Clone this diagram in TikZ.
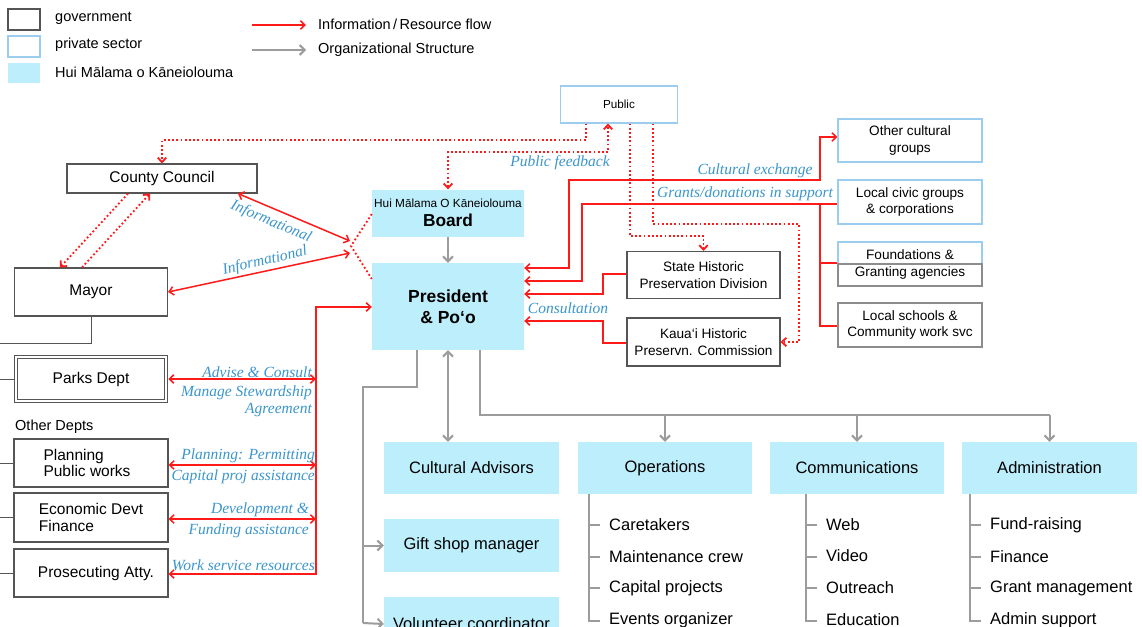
\documentclass[tikz,border=0pt]{standalone}
\usepackage{fontspec}
\setmainfont{Liberation Sans}
\newfontfamily\lblfont{Liberation Serif}
\usetikzlibrary{arrows.meta}
\definecolor{huic}{HTML}{BDEEFB}
\definecolor{privc}{HTML}{9DCDEE}
\definecolor{govc}{HTML}{555555}
\definecolor{gryc}{HTML}{8C8C8C}
\definecolor{redc}{HTML}{FF1A1A}
\definecolor{grayc}{HTML}{9C9C9C}
\definecolor{lblc}{HTML}{3A96CC}
\newcommand\myfs[2]{\fontsize{#1}{#2}\selectfont}
\tikzset{
 govbox/.style={draw=govc, line width=1.1pt, fill=white, inner sep=0pt, align=center},
 privbox/.style={draw=privc, line width=1.1pt, fill=white, inner sep=0pt, align=center},
 grybox/.style={draw=gryc, line width=1.1pt, fill=white, inner sep=0pt, align=center},
 huibox/.style={fill=huic, inner sep=0pt, align=center},
 txt/.style={inner sep=0pt},
 lbl/.style={inner sep=0pt, text=lblc, font=\lblfont\itshape\myfs{15.5}{17}},
 rflow/.style={draw=redc, line width=1.5pt, >={Straight Barb[length=4.5pt,width=8.5pt]}},
 rdot/.style={rflow, line width=1.8pt, dash pattern=on 1.8pt off 2.4pt},
 org/.style={draw=grayc, line width=2pt, >={Straight Barb[length=5pt,width=10pt]}},
 tree/.style={draw=grayc, line width=2pt},
 conn/.style={draw=govc, line width=1pt},
}
\begin{document}
\begin{tikzpicture}[x=1pt,y=-1pt]
\useasboundingbox (0,0) rectangle (1142,626);
\fill[white] (0,0) rectangle (1142,626);
\clip (0,0) rectangle (1142,626);

% ---------- legend ----------
\node[govbox, minimum width=32, minimum height=21] (lg1) at (24,19.5) {};
\node[privbox, minimum width=32, minimum height=21] (lg2) at (24,46.5) {};
\node[huibox, minimum width=32, minimum height=20] (lg3) at (24,73) {};
\node[txt, anchor=west, font=\myfs{14.5}{16}] (lt1) at (55,18) {government};
\node[txt, anchor=west, font=\myfs{14.5}{16}] (lt2) at (55,45) {private sector};
\node[txt, anchor=west, font=\myfs{14.5}{16}] (lt3) at (55,72) {Hui Mālama o Kāneiolouma};
\coordinate (la1) at (252,25);
\coordinate (la2) at (306,25);
\coordinate (la3) at (252,50);
\coordinate (la4) at (306,50);
\draw[rflow,->] (la1) -- (la2);
\draw[org,->] (la3) -- (la4);
\node[txt, anchor=west, font=\myfs{14.5}{16}] (lt4) at (318,24) {Information\,/\,Resource flow};
\node[txt, anchor=west, font=\myfs{14.5}{16}] (lt5) at (318,50) {Organizational Structure};

% ---------- main nodes ----------
\node[privbox, minimum width=117, minimum height=37, font=\myfs{11.7}{13}] (pub) at (619,104.5) {Public};
\node[govbox, minimum width=190, minimum height=29, font=\myfs{15.5}{17}] (cc) at (162,178.5) {County Council};
\node[govbox, minimum width=153, minimum height=48, font=\myfs{15.5}{17}] (may) at (91,292) {Mayor};
\node[huibox, minimum width=152, minimum height=47] (brd) at (448,213)
  {{\myfs{11.8}{13}Hui Mālama O Kāneiolouma}\\[5pt]{\myfs{17.3}{18}\bfseries Board}};
\node[huibox, minimum width=152, minimum height=87, font=\myfs{17.5}{21}\bfseries] (pres) at (448,306.5) {President\\\& Po‘o};

\node[govbox, minimum width=153, minimum height=47, font=\myfs{13.6}{17}] (shpd) at (703.5,275) {State Historic\\Preservation Division};
\node[govbox, minimum width=153, minimum height=48, font=\myfs{13.6}{17}] (khpc) at (703.5,342) {Kaua‘i Historic\\Preservn. Commission};

\node[privbox, minimum width=144, minimum height=43, font=\myfs{13.6}{16.5}] (ocg) at (910,140.5) {Other cultural\\groups};
\node[privbox, minimum width=144, minimum height=44, font=\myfs{13.6}{16.5}] (lcg) at (910,202) {Local civic groups\\\& corporations};
\node[privbox, minimum width=144, minimum height=44] (fnd) at (910,264) {};
\node[grybox, minimum width=144, minimum height=22] (fndb) at (910,275) {};
\node[txt, align=center, font=\myfs{13.6}{17}] (fndt) at (910,264.5) {Foundations \&\\Granting agencies};
\node[grybox, minimum width=144, minimum height=44, font=\myfs{13.6}{16.5}] (lsc) at (910,325) {Local schools \&\\Community work svc};

% left departments
\node[govbox, double, double distance=2.5pt, line width=1pt, minimum width=150, minimum height=44, font=\myfs{15.5}{17}] (parks) at (91,379) {Parks Dept};
\node[txt, anchor=west, font=\myfs{14.5}{16}] (oth) at (15,427) {Other Depts};
\node[govbox, align=left, minimum width=154, minimum height=48, font=\myfs{15.5}{16.5}] (plan) at (91,463) {Planning\\Public works\hspace*{8pt}};
\node[govbox, align=left, minimum width=154, minimum height=49, font=\myfs{15.5}{16.5}] (econ) at (91,517.5) {Economic Devt\\Finance};
\node[govbox, minimum width=154, minimum height=48, font=\myfs{15.5}{17}] (pros) at (91,573) {\hspace*{10pt}Prosecuting Atty.};

% lower org boxes
\node[huibox, minimum width=175, minimum height=52, font=\myfs{16.5}{18}] (ca) at (471.5,468) {Cultural Advisors};
\node[huibox, minimum width=175, minimum height=53, font=\myfs{16.5}{18}] (gs) at (471.5,545.5) {Gift shop manager};
\node[huibox, minimum width=175, minimum height=54, font=\myfs{16.5}{18}] (vc) at (471.5,624) {Volunteer coordinator};
\node[huibox, minimum width=174, minimum height=52, font=\myfs{16.5}{18}] (ops) at (665,468) {Operations};
\node[huibox, minimum width=174, minimum height=52, font=\myfs{16.5}{18}] (com) at (857,468) {Communications};
\node[huibox, minimum width=175, minimum height=52, font=\myfs{16.5}{18}] (adm) at (1049.5,468) {Administration};

% sub items
\foreach \t/\y [count=\i] in {Caretakers/525, Maintenance crew/557, Capital projects/588, Events organizer/620}
  \node[txt, anchor=west, font=\myfs{16.5}{18}] (op\i) at (609,\y) {\t};
\foreach \t/\y [count=\i] in {Web/525, Video/556, Outreach/588, Education/620}
  \node[txt, anchor=west, font=\myfs{16.5}{18}] (cm\i) at (826,\y) {\t};
\foreach \t/\y [count=\i] in {Fund-raising/525, Finance/557, Grant management/588, Admin support/620}
  \node[txt, anchor=west, font=\myfs{16.5}{18}] (ad\i) at (990,\y) {\t};

% ---------- gray structure ----------
\draw[org,->] (brd.south) -- (pres.north);
\draw[org,<->] (pres.south) -- (pres.south |- ca.north);
\draw[tree] (pres.south -| 417,0) -- (417,387) -- (363,387) -- (363,623);
\draw[org,->] (363,545.5) -- (gs.west);
\draw[org,->] (363,623) -- (vc.west);
\draw[tree] (pres.south -| 480,0) -- (480,415) -- (1049.5,415);
\draw[org,->] (ops.north |- 0,415) -- (ops.north);
\draw[org,->] (com.north |- 0,415) -- (com.north);
\draw[org,->] (adm.north |- 0,415) -- (adm.north);
\draw[tree] (ops.south -| 589,0) -- (589,621) -- (600,621);
\foreach \y in {525,557,588} \draw[tree] (589,\y) -- (600,\y);
\draw[tree] (com.south -| 806,0) -- (806,621) -- (817,621);
\foreach \y in {525,557,588} \draw[tree] (806,\y) -- (817,\y);
\draw[tree] (adm.south -| 970,0) -- (970,621) -- (981,621);
\foreach \y in {525,557,588} \draw[tree] (970,\y) -- (981,\y);

% government stubs
\draw[conn] (may.south) -- (may.south |- 0,343) -- (0,343);
\draw[conn] (parks.west -| 0,0) -- ([xshift=-1.75pt]parks.west);
\draw[conn] (plan.west -| 0,0) -- (plan.west);
\draw[conn] (econ.west -| 0,0) -- (econ.west);
\draw[conn] (pros.west -| 0,0) -- (pros.west);

% ---------- red flows ----------
\coordinate (ix1) at (350,241);
\coordinate (ix2) at (350,253);
\draw[rflow,<->] (cc.south -| 238,0) -- (ix1);
\draw[rflow,<->] (may.east) -- (ix2);
\node[lbl, rotate=-23] (inf1) at (271,222) {Informational};
\node[lbl, rotate=13] (inf2) at (265,261) {Informational};

\draw[rflow,<->] (pres.west |- 0,307) -- (316,307) -- (316,574) -- (pros.east |- 0,574);
\draw[rflow,<->] ([xshift=1.75pt]parks.east) -- (parks.east -| 316,0);
\draw[rflow,<->] (plan.east |- 0,465) -- (316,465);
\draw[rflow,<->] (econ.east |- 0,519) -- (316,519);
\node[lbl, anchor=east] (l1) at (312,372) {Advise \& Consult};
\node[lbl, anchor=east] (l2) at (312,393) {Manage Stewardship};
\node[lbl, anchor=east] (l3) at (312,410) {Agreement};
\node[lbl, anchor=east] (l4) at (315,456) {Planning: Permitting};
\node[lbl, anchor=east] (l5) at (315,477) {Capital proj assistance};
\node[lbl, anchor=east] (l6) at (309,510) {Development \&};
\node[lbl, anchor=east] (l7) at (309,531) {Funding assistance};
\node[lbl, anchor=east] (l8) at (315,565) {Work service resources};

\draw[rflow,<->] (pres.east |- 0,268) -- (569,268) -- (569,180) -- (820,180) -- (820,137) -- (ocg.west |- 0,137);
\draw[rflow,->] (lcg.west |- 0,204) -- (582,204) -- (582,281) -- (pres.east |- 0,281);
\draw[rflow, line width=1.1pt] (820,204) -- (820,326) -- (lsc.west |- 0,326);
\draw[rflow, line width=1.1pt] (820,263) -- (fnd.west |- 0,263);
\draw[rflow,->] (shpd.west |- 0,274) -- (603,274) -- (603,294) -- (pres.east |- 0,294);
\draw[rflow,->] (khpc.west |- 0,343) -- (603,343) -- (603,321) -- (pres.east |- 0,321);
\node[lbl] (lce) at (755,171) {Cultural exchange};
\node[lbl] (lgd) at (745,194) {Grants/donations in support};
\node[lbl] (lcs) at (568,308) {Consultation};

% dotted
\draw[rdot,->] (pub.south -| 586,0) -- (586,140) -- (162,140) -- (cc.north);
\draw[rdot,<->] (brd.north) -- (448,152) -- (608,152) -- (pub.south -| 608,0);
\node[lbl] (lpf) at (560,163) {Public feedback};
\draw[rdot,->] (pub.south -| 630,0) -- (630,236) -- (703.5,236) -- (shpd.north);
\draw[rdot,->] (pub.south -| 653,0) -- (653,224) -- (799,224) -- (799,342) -- (khpc.east);
\draw[rdot,->] (cc.south -| 128,0) -- (may.north -| 60,0);
\draw[rdot,->] (may.north -| 82,0) -- (cc.south -| 150,0);
\draw[rdot] (brd.west |- 0,214) -- (351,246) -- (pres.west |- 0,279);
\end{tikzpicture}
\end{document}
